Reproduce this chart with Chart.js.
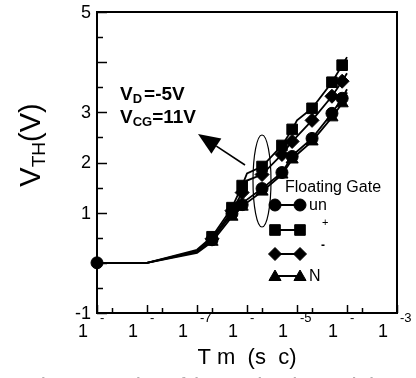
<!DOCTYPE html>
<html>
<head>
<meta charset="utf-8">
<script src="https://cdn.jsdelivr.net/npm/chart.js@4.4.1/dist/chart.umd.min.js"></script>
<style>
  html, body { margin: 0; padding: 0; background: #fff; }
  #wrap { width: 416px; height: 378px; }
</style>
</head>
<body>
<div id="wrap"><canvas id="c" width="416" height="378"></canvas></div>
<script>
// stress time (sec) and threshold voltage shift (V) per floating gate type
const times   = [1e-9, 1e-8, 1e-7, 2e-7, 5e-7, 8e-7, 1e-6, 2e-6, 5e-6, 8e-6, 1e-5, 2e-5, 5e-5, 8e-5, 1e-4];
const vthUn    = [0, 0, 0.22, 0.46, 0.98, 1.16, 1.26, 1.48, 1.80, 2.12, 2.22, 2.48, 2.98, 3.28, 3.46];
const vthPlus  = [0, 0, 0.26, 0.52, 1.10, 1.54, 1.78, 1.92, 2.34, 2.66, 2.84, 3.08, 3.60, 3.94, 4.10];
const vthMinus = [0, 0, 0.24, 0.48, 1.04, 1.40, 1.64, 1.76, 2.16, 2.42, 2.52, 2.84, 3.32, 3.62, 3.78];
const vthN     = [0, 0, 0.20, 0.42, 0.92, 1.12, 1.20, 1.42, 1.76, 2.06, 2.16, 2.42, 2.90, 3.18, 3.40];
// which samples carry a marker (first one only on the top series)
const marked   = [1, 0, 0, 1, 1, 1, 0, 1, 1, 1, 0, 1, 1, 1, 0];

const seriesNames = ['un', '+', '-', 'N'];
const xTickExp = [-9, -8, -7, -6, -5, -4, -3];
const xTickSup = ['-', '-', '-7', '-', '-5', '-', '-3'];
const yTickVals = [-1, 0, 1, 2, 3, 4, 5];
const yTickText = ['-1', '', '1', '2', '3', '', '5'];

const FONT = '"Liberation Sans", Arial, Helvetica, sans-serif';

function ds(label, vals, style, r, first) {
  return {
    label,
    data: times.map((t, i) => ({ x: t, y: vals[i] })),
    borderColor: '#000',
    backgroundColor: '#000',
    borderWidth: 1.8,
    pointStyle: style,
    pointBackgroundColor: '#000',
    pointBorderColor: '#000',
    pointBorderWidth: 1,
    pointRadius: ctx => (marked[ctx.dataIndex] && (ctx.dataIndex > 0 || first)) ? r : 0,
    tension: 0,
    clip: false
  };
}

const frame = {
  id: 'frame',
  afterDraw(chart) {
    const { ctx, chartArea: a, scales: { x, y } } = chart;
    ctx.save();
    ctx.strokeStyle = '#000';
    ctx.fillStyle = '#000';

    // box
    ctx.lineWidth = 2;
    ctx.strokeRect(a.left, a.top, a.right - a.left, a.bottom - a.top);

    // y ticks (inward)
    ctx.lineWidth = 1.5;
    for (let v = -1; v <= 5.001; v += 0.5) {
      const py = Math.round(y.getPixelForValue(v)) + 0.5;
      const len = Number.isInteger(v) ? 10 : 6;
      ctx.beginPath(); ctx.moveTo(a.left, py); ctx.lineTo(a.left + len, py); ctx.stroke();
    }
    // x ticks (inward): decades + 2x
    xTickExp.forEach(e => {
      const px = Math.round(x.getPixelForValue(Math.pow(10, e))) + 0.5;
      ctx.beginPath(); ctx.moveTo(px, a.bottom); ctx.lineTo(px, a.bottom - 8); ctx.stroke();
      if (e < -3) {
        const pm = Math.round(x.getPixelForValue(2 * Math.pow(10, e))) + 0.5;
        ctx.beginPath(); ctx.moveTo(pm, a.bottom); ctx.lineTo(pm, a.bottom - 5); ctx.stroke();
      }
    });

    // y tick labels
    ctx.font = '18px ' + FONT;
    ctx.textAlign = 'right';
    ctx.textBaseline = 'middle';
    yTickVals.forEach((v, i) => {
      if (yTickText[i]) ctx.fillText(yTickText[i], a.left - 6, y.getPixelForValue(v) + 1);
    });

    // x tick labels: "1" + superscript
    ctx.textBaseline = 'alphabetic';
    xTickExp.forEach((e, i) => {
      const px = x.getPixelForValue(Math.pow(10, e));
      ctx.font = '18px ' + FONT;
      ctx.textAlign = 'center';
      ctx.fillText('1', px - 14, a.bottom + 24);
      ctx.font = '13px ' + FONT;
      ctx.textAlign = 'left';
      ctx.fillText(xTickSup[i], px + 3, a.bottom + 9);
    });

    // x title
    ctx.font = '22px ' + FONT;
    ctx.textAlign = 'center';
    ctx.fillText('T m  (s  c)', (a.left + a.right) / 2, 364);

    // y title, rotated
    ctx.save();
    ctx.translate(40, 145);
    ctx.rotate(-Math.PI / 2);
    ctx.textAlign = 'left';
    const big = '29px ' + FONT, small = '19px ' + FONT;
    ctx.font = big; const w1 = ctx.measureText('V').width;
    ctx.font = small; const w2 = ctx.measureText('TH').width;
    ctx.font = big; const w3 = ctx.measureText('(V)').width;
    let sx = -(w1 + w2 + w3) / 2;
    ctx.font = big; ctx.fillText('V', sx, 0); sx += w1;
    ctx.font = small; ctx.fillText('TH', sx, 5); sx += w2;
    ctx.font = big; ctx.fillText('(V)', sx, 0);
    ctx.restore();

    // bias conditions
    const b19 = 'bold 19px ' + FONT, b13 = 'bold 13px ' + FONT;
    ctx.textAlign = 'left';
    let tx = 120;
    ctx.font = b19; ctx.fillText('V', tx, 100); tx += ctx.measureText('V').width;
    ctx.font = b13; ctx.fillText('D', tx, 103); tx += ctx.measureText('D').width + 2;
    ctx.font = b19; ctx.fillText('=-5V', tx, 100);
    tx = 120;
    ctx.font = b19; ctx.fillText('V', tx, 123); tx += ctx.measureText('V').width;
    ctx.font = b13; ctx.fillText('CG', tx, 126); tx += ctx.measureText('CG').width;
    ctx.font = b19; ctx.fillText('=11V', tx, 123);

    // arrow
    const tail = [245, 165], tip = [198, 134];
    const ang = Math.atan2(tip[1] - tail[1], tip[0] - tail[0]);
    const hl = 22, hw = 9;
    const bx = tip[0] - hl * Math.cos(ang), by = tip[1] - hl * Math.sin(ang);
    ctx.lineWidth = 1.6;
    ctx.beginPath(); ctx.moveTo(tail[0], tail[1]); ctx.lineTo(bx, by); ctx.stroke();
    ctx.beginPath();
    ctx.moveTo(tip[0], tip[1]);
    ctx.lineTo(bx + hw * Math.sin(ang), by - hw * Math.cos(ang));
    ctx.lineTo(bx - hw * Math.sin(ang), by + hw * Math.cos(ang));
    ctx.closePath(); ctx.fill();

    // ellipse around the early-time points
    ctx.lineWidth = 1.2;
    ctx.beginPath(); ctx.ellipse(262, 181, 9, 46, 0, 0, Math.PI * 2); ctx.stroke();

    // legend
    ctx.font = '16px ' + FONT;
    ctx.textBaseline = 'middle';
    ctx.fillText('Floating Gate', 285, 188);
    const styles = ['circle', 'rect', 'rectRot', 'triangle'];
    const radii = [6, 7.5, 6.5, 7];
    const rows = [205, 230, 254, 276];
    styles.forEach((s, i) => {
      ctx.lineWidth = 2;
      ctx.beginPath(); ctx.moveTo(275, rows[i]); ctx.lineTo(300, rows[i]); ctx.stroke();
      ctx.lineWidth = 1;
      [275, 300].forEach(px => Chart.helpers.drawPoint(ctx, { pointStyle: s, radius: radii[i], rotation: 0, borderWidth: 1 }, px, rows[i] + (s === 'triangle' ? 1 : 0)));
    });
    ctx.font = '16px ' + FONT;
    ctx.fillText(seriesNames[0], 309, 206);
    ctx.fillText(seriesNames[3], 309, 277);
    ctx.font = '11px ' + FONT;
    ctx.fillText(seriesNames[1], 322, 223);
    ctx.font = 'bold 12px ' + FONT;
    ctx.fillText(seriesNames[2], 321, 246);

    // caption (cut off at the bottom edge)
    ctx.fillStyle = '#b0b0b0';
    ctx.font = 'bold 15px ' + FONT;
    ctx.textBaseline = 'alphabetic';
    ctx.fillText('Fig. 5  Comparison of the retention characteristics', 32, 388);

    ctx.restore();
  }
};

new Chart(document.getElementById('c'), {
  type: 'line',
  data: {
    datasets: [
      ds(seriesNames[0], vthUn, 'circle', 6, true),
      ds(seriesNames[1], vthPlus, 'rect', 7.5, false),
      ds(seriesNames[2], vthMinus, 'rectRot', 7, false),
      ds(seriesNames[3], vthN, 'triangle', 7, false)
    ]
  },
  options: {
    responsive: false,
    animation: false,
    layout: { padding: { left: 97, right: 19, top: 12, bottom: 65 } },
    plugins: { legend: { display: false }, tooltip: { enabled: false } },
    scales: {
      x: { type: 'logarithmic', min: 1e-9, max: 1e-3, display: false },
      y: { type: 'linear', min: -1, max: 5, display: false }
    }
  },
  plugins: [frame]
});
</script>
</body>
</html>
